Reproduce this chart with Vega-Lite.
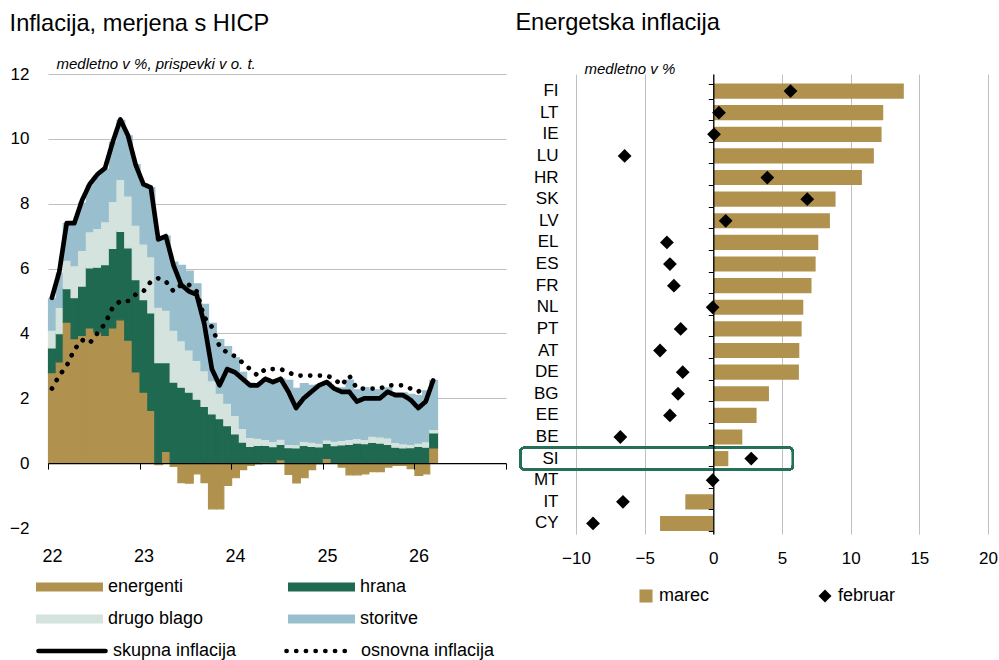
{
  "$schema": "https://vega.github.io/schema/vega-lite/v6.json",
  "padding": {"left": 9, "top": 10, "right": 0, "bottom": 0},
  "autosize": {"type": "pad"},
  "config": {
    "font": "Liberation Sans",
    "view": {"stroke": null},
    "bar": {"binSpacing": 0},
    "axis": {"labelColor": "black", "labelFont": "Liberation Sans", "titleColor": "black"},
    "legend": {"labelColor": "black", "labelFont": "Liberation Sans"}
  },
  "datasets": {
    "komp": [
      {"komponenta": "energenti", "red": 1},
      {"komponenta": "hrana", "red": 2},
      {"komponenta": "drugo blago", "red": 3},
      {"komponenta": "storitve", "red": 4}
    ],
    "infl": [
      {"mesec": "2022-01", "energenti": 2.79, "hrana": 0.76, "drugo blago": 0.55, "storitve": 0.97, "skupna inflacija": 5.1, "osnovna inflacija": 2.3},
      {"mesec": "2022-02", "energenti": 3.12, "hrana": 0.87, "drugo blago": 0.81, "storitve": 1.05, "skupna inflacija": 5.9, "osnovna inflacija": 2.7},
      {"mesec": "2022-03", "energenti": 4.35, "hrana": 1.03, "drugo blago": 0.88, "storitve": 1.13, "skupna inflacija": 7.4, "osnovna inflacija": 3.0},
      {"mesec": "2022-04", "energenti": 3.84, "hrana": 1.26, "drugo blago": 0.99, "storitve": 1.35, "skupna inflacija": 7.4, "osnovna inflacija": 3.5},
      {"mesec": "2022-05", "energenti": 3.94, "hrana": 1.52, "drugo blago": 1.10, "storitve": 1.46, "skupna inflacija": 8.1, "osnovna inflacija": 3.8},
      {"mesec": "2022-06", "energenti": 4.17, "hrana": 1.85, "drugo blago": 1.12, "storitve": 1.43, "skupna inflacija": 8.6, "osnovna inflacija": 3.7},
      {"mesec": "2022-07", "energenti": 4.04, "hrana": 2.00, "drugo blago": 1.20, "storitve": 1.62, "skupna inflacija": 8.9, "osnovna inflacija": 4.0},
      {"mesec": "2022-08", "energenti": 3.94, "hrana": 2.18, "drugo blago": 1.33, "storitve": 1.62, "skupna inflacija": 9.1, "osnovna inflacija": 4.3},
      {"mesec": "2022-09", "energenti": 4.17, "hrana": 2.45, "drugo blago": 1.45, "storitve": 1.82, "skupna inflacija": 9.9, "osnovna inflacija": 4.8},
      {"mesec": "2022-10", "energenti": 4.42, "hrana": 2.73, "drugo blago": 1.60, "storitve": 1.82, "skupna inflacija": 10.6, "osnovna inflacija": 5.0},
      {"mesec": "2022-11", "energenti": 3.79, "hrana": 2.85, "drugo blago": 1.60, "storitve": 1.85, "skupna inflacija": 10.1, "osnovna inflacija": 5.0},
      {"mesec": "2022-12", "energenti": 2.81, "hrana": 2.85, "drugo blago": 1.68, "storitve": 1.87, "skupna inflacija": 9.2, "osnovna inflacija": 5.2},
      {"mesec": "2023-01", "energenti": 2.19, "hrana": 2.85, "drugo blago": 1.72, "storitve": 1.84, "skupna inflacija": 8.6, "osnovna inflacija": 5.3},
      {"mesec": "2023-02", "energenti": 1.63, "hrana": 3.00, "drugo blago": 1.74, "storitve": 2.13, "skupna inflacija": 8.5, "osnovna inflacija": 5.6},
      {"mesec": "2023-03", "energenti": -0.05, "hrana": 3.10, "drugo blago": 1.71, "storitve": 2.14, "skupna inflacija": 6.9, "osnovna inflacija": 5.7},
      {"mesec": "2023-04", "energenti": 0.36, "hrana": 2.74, "drugo blago": 1.62, "storitve": 2.28, "skupna inflacija": 7.0, "osnovna inflacija": 5.6},
      {"mesec": "2023-05", "energenti": -0.10, "hrana": 2.50, "drugo blago": 1.60, "storitve": 2.10, "skupna inflacija": 6.1, "osnovna inflacija": 5.3},
      {"mesec": "2023-06", "energenti": -0.60, "hrana": 2.34, "drugo blago": 1.44, "storitve": 2.32, "skupna inflacija": 5.5, "osnovna inflacija": 5.5},
      {"mesec": "2023-07", "energenti": -0.62, "hrana": 2.19, "drugo blago": 1.30, "storitve": 2.43, "skupna inflacija": 5.3, "osnovna inflacija": 5.5},
      {"mesec": "2023-08", "energenti": -0.33, "hrana": 1.97, "drugo blago": 1.20, "storitve": 2.36, "skupna inflacija": 5.2, "osnovna inflacija": 5.3},
      {"mesec": "2023-09", "energenti": -0.60, "hrana": 1.75, "drugo blago": 1.10, "storitve": 2.05, "skupna inflacija": 4.3, "osnovna inflacija": 4.5},
      {"mesec": "2023-10", "energenti": -1.41, "hrana": 1.52, "drugo blago": 1.02, "storitve": 1.77, "skupna inflacija": 2.9, "osnovna inflacija": 4.2},
      {"mesec": "2023-11", "energenti": -1.41, "hrana": 1.37, "drugo blago": 0.79, "storitve": 1.65, "skupna inflacija": 2.4, "osnovna inflacija": 3.6},
      {"mesec": "2023-12", "energenti": -0.69, "hrana": 1.16, "drugo blago": 0.69, "storitve": 1.74, "skupna inflacija": 2.9, "osnovna inflacija": 3.4},
      {"mesec": "2024-01", "energenti": -0.45, "hrana": 0.90, "drugo blago": 0.57, "storitve": 1.78, "skupna inflacija": 2.8, "osnovna inflacija": 3.3},
      {"mesec": "2024-02", "energenti": -0.20, "hrana": 0.65, "drugo blago": 0.42, "storitve": 1.73, "skupna inflacija": 2.6, "osnovna inflacija": 3.1},
      {"mesec": "2024-03", "energenti": -0.07, "hrana": 0.52, "drugo blago": 0.27, "storitve": 1.68, "skupna inflacija": 2.4, "osnovna inflacija": 2.9},
      {"mesec": "2024-04", "energenti": -0.02, "hrana": 0.55, "drugo blago": 0.22, "storitve": 1.65, "skupna inflacija": 2.4, "osnovna inflacija": 2.7},
      {"mesec": "2024-05", "energenti": 0.03, "hrana": 0.52, "drugo blago": 0.18, "storitve": 1.87, "skupna inflacija": 2.6, "osnovna inflacija": 2.9},
      {"mesec": "2024-06", "energenti": 0.01, "hrana": 0.50, "drugo blago": 0.16, "storitve": 1.83, "skupna inflacija": 2.5, "osnovna inflacija": 2.9},
      {"mesec": "2024-07", "energenti": 0.11, "hrana": 0.47, "drugo blago": 0.16, "storitve": 1.86, "skupna inflacija": 2.6, "osnovna inflacija": 2.9},
      {"mesec": "2024-08", "energenti": -0.35, "hrana": 0.48, "drugo blago": 0.10, "storitve": 1.97, "skupna inflacija": 2.2, "osnovna inflacija": 2.8},
      {"mesec": "2024-09", "energenti": -0.61, "hrana": 0.47, "drugo blago": 0.10, "storitve": 1.74, "skupna inflacija": 1.7, "osnovna inflacija": 2.7},
      {"mesec": "2024-10", "energenti": -0.45, "hrana": 0.55, "drugo blago": 0.12, "storitve": 1.78, "skupna inflacija": 2.0, "osnovna inflacija": 2.7},
      {"mesec": "2024-11", "energenti": -0.20, "hrana": 0.52, "drugo blago": 0.13, "storitve": 1.75, "skupna inflacija": 2.2, "osnovna inflacija": 2.7},
      {"mesec": "2024-12", "energenti": -0.02, "hrana": 0.50, "drugo blago": 0.12, "storitve": 1.80, "skupna inflacija": 2.4, "osnovna inflacija": 2.7},
      {"mesec": "2025-01", "energenti": 0.15, "hrana": 0.46, "drugo blago": 0.11, "storitve": 1.78, "skupna inflacija": 2.5, "osnovna inflacija": 2.7},
      {"mesec": "2025-02", "energenti": 0.02, "hrana": 0.52, "drugo blago": 0.14, "storitve": 1.62, "skupna inflacija": 2.3, "osnovna inflacija": 2.6},
      {"mesec": "2025-03", "energenti": -0.12, "hrana": 0.56, "drugo blago": 0.14, "storitve": 1.62, "skupna inflacija": 2.2, "osnovna inflacija": 2.4},
      {"mesec": "2025-04", "energenti": -0.36, "hrana": 0.58, "drugo blago": 0.15, "storitve": 1.83, "skupna inflacija": 2.2, "osnovna inflacija": 2.7},
      {"mesec": "2025-05", "energenti": -0.36, "hrana": 0.62, "drugo blago": 0.14, "storitve": 1.50, "skupna inflacija": 1.9, "osnovna inflacija": 2.3},
      {"mesec": "2025-06", "energenti": -0.33, "hrana": 0.60, "drugo blago": 0.13, "storitve": 1.60, "skupna inflacija": 2.0, "osnovna inflacija": 2.3},
      {"mesec": "2025-07", "energenti": -0.26, "hrana": 0.64, "drugo blago": 0.19, "storitve": 1.43, "skupna inflacija": 2.0, "osnovna inflacija": 2.3},
      {"mesec": "2025-08", "energenti": -0.26, "hrana": 0.62, "drugo blago": 0.19, "storitve": 1.45, "skupna inflacija": 2.0, "osnovna inflacija": 2.3},
      {"mesec": "2025-09", "energenti": -0.12, "hrana": 0.58, "drugo blago": 0.20, "storitve": 1.54, "skupna inflacija": 2.2, "osnovna inflacija": 2.4},
      {"mesec": "2025-10", "energenti": -0.07, "hrana": 0.49, "drugo blago": 0.15, "storitve": 1.53, "skupna inflacija": 2.1, "osnovna inflacija": 2.4},
      {"mesec": "2025-11", "energenti": -0.07, "hrana": 0.47, "drugo blago": 0.13, "storitve": 1.57, "skupna inflacija": 2.1, "osnovna inflacija": 2.4},
      {"mesec": "2025-12", "energenti": -0.17, "hrana": 0.48, "drugo blago": 0.10, "storitve": 1.54, "skupna inflacija": 1.95, "osnovna inflacija": 2.3},
      {"mesec": "2026-01", "energenti": -0.38, "hrana": 0.52, "drugo blago": 0.10, "storitve": 1.46, "skupna inflacija": 1.7, "osnovna inflacija": 2.2},
      {"mesec": "2026-02", "energenti": -0.33, "hrana": 0.49, "drugo blago": 0.17, "storitve": 1.57, "skupna inflacija": 1.9, "osnovna inflacija": 2.4},
      {"mesec": "2026-03", "energenti": 0.47, "hrana": 0.46, "drugo blago": 0.11, "storitve": 1.51, "skupna inflacija": 2.55, "osnovna inflacija": null}
    ],
    "energ": [
      {"drzava": "FI", "marec": 13.87, "februar": 5.62},
      {"drzava": "LT", "marec": 12.37, "februar": 0.41},
      {"drzava": "IE", "marec": 12.25, "februar": 0.05},
      {"drzava": "LU", "marec": 11.69, "februar": -6.46},
      {"drzava": "HR", "marec": 10.82, "februar": 3.93},
      {"drzava": "SK", "marec": 8.90, "februar": 6.84},
      {"drzava": "LV", "marec": 8.49, "februar": 0.90},
      {"drzava": "EL", "marec": 7.64, "februar": -3.38},
      {"drzava": "ES", "marec": 7.45, "februar": -3.16},
      {"drzava": "FR", "marec": 7.15, "februar": -2.87},
      {"drzava": "NL", "marec": 6.55, "februar": -0.05},
      {"drzava": "PT", "marec": 6.43, "februar": -2.38},
      {"drzava": "AT", "marec": 6.26, "februar": -3.88},
      {"drzava": "DE", "marec": 6.23, "februar": -2.23},
      {"drzava": "BG", "marec": 4.05, "februar": -2.57},
      {"drzava": "EE", "marec": 3.15, "februar": -3.16},
      {"drzava": "BE", "marec": 2.11, "februar": -6.77},
      {"drzava": "SI", "marec": 1.09, "februar": 2.76},
      {"drzava": "MT", "marec": 0.0, "februar": -0.05},
      {"drzava": "IT", "marec": -2.04, "februar": -6.58},
      {"drzava": "CY", "marec": -3.88, "februar": -8.76}
    ]
  },
  "hconcat": [
    {
      "width": 458,
      "height": 454,
      "title": {"text": "Inflacija, merjena s HICP", "anchor": "start", "fontSize": 23.6, "fontWeight": "normal", "font": "Liberation Sans", "color": "black", "offset": 21},
      "data": {"name": "infl"},
      "layer": [
        {
          "transform": [
            {"fold": ["energenti", "hrana", "drugo blago", "storitve"], "as": ["komponenta", "prispevek"]},
            {"lookup": "komponenta", "from": {"data": {"name": "komp"}, "key": "komponenta", "fields": ["red"]}}
          ],
          "mark": {"type": "bar", "binSpacing": 0, "timeUnitBandSize": 1, "strokeWidth": 1.2},
          "encoding": {
            "x": {
              "field": "mesec", "timeUnit": "utcyearmonth", "type": "temporal",
              "scale": {"domain": [{"year": 2022, "month": 1, "date": 1, "utc": true}, {"year": 2027, "month": 1, "date": 1, "utc": true}]},
              "axis": {
                "orient": "bottom", "title": null, "format": "%y",
                "values": [{"year": 2022, "month": 1, "date": 1, "utc": true}, {"year": 2023, "month": 1, "date": 1, "utc": true}, {"year": 2024, "month": 1, "date": 1, "utc": true}, {"year": 2025, "month": 1, "date": 1, "utc": true}, {"year": 2026, "month": 1, "date": 1, "utc": true}],
                "labelFontSize": 18, "labelPadding": 19, "labelOffset": 4, "labelFlush": false,
                "ticks": false, "domain": false, "grid": false
              }
            },
            "y": {
              "field": "prispevek", "type": "quantitative", "stack": "zero",
              "scale": {"domain": [-2, 12], "nice": false},
              "axis": {
                "title": "medletno v %, prispevki v o. t.", "titleAngle": 0, "titleAlign": "left", "titleBaseline": "alphabetic",
                "titleX": 8, "titleY": -5.5, "titleFontSize": 15, "titleFontStyle": "italic", "titleFontWeight": "normal",
                "values": [-2, 0, 2, 4, 6, 8, 10, 12], "labelFontSize": 17, "labelPadding": 19,
                "ticks": false, "domain": false, "grid": true, "gridColor": "#BFBFBF", "gridWidth": 1,
                "gridOpacity": {"condition": {"test": "datum.value <= 0", "value": 0}, "value": 1}
              }
            },
            "order": {"field": "red", "type": "quantitative", "sort": "ascending"},
            "color": {
              "field": "komponenta", "type": "nominal",
              "sort": ["energenti", "hrana", "drugo blago", "storitve"],
              "scale": {"domain": ["energenti", "hrana", "drugo blago", "storitve"], "range": ["#B0924E", "#1F6950", "#D4E3DE", "#99BFCE"]},
              "legend": {
                "orient": "none", "legendX": -12, "legendY": 502, "direction": "horizontal", "columns": 2,
                "columnPadding": 84, "rowPadding": 10, "title": null, "clipHeight": 22,
                "symbolType": "M-1,-0.135H1V0.135H-1Z", "symbolSize": 4489, "symbolStrokeWidth": 0,
                "labelFontSize": 18, "labelOffset": 5
              }
            },
            "stroke": {
              "field": "komponenta", "type": "nominal",
              "scale": {"domain": ["energenti", "hrana", "drugo blago", "storitve"], "range": ["#B0924E", "#1F6950", "#D4E3DE", "#99BFCE"]},
              "legend": null
            }
          }
        },
        {
          "transform": [{"fold": ["skupna inflacija", "osnovna inflacija"], "as": ["serija", "vrednost"]}],
          "mark": {"type": "line", "color": "black", "strokeWidth": 4.7, "strokeCap": "round", "strokeJoin": "round"},
          "encoding": {
            "x": {
              "field": "mesec", "timeUnit": "utcyearmonth", "type": "temporal", "bandPosition": 0.5,
              "axis": {
                "orient": "bottom", "offset": -64.9, "title": null, "labels": false,
                "values": [{"year": 2022, "month": 1, "date": 1, "utc": true}, {"year": 2023, "month": 1, "date": 1, "utc": true}, {"year": 2024, "month": 1, "date": 1, "utc": true}, {"year": 2025, "month": 1, "date": 1, "utc": true}, {"year": 2026, "month": 1, "date": 1, "utc": true}, {"year": 2027, "month": 1, "date": 1, "utc": true}],
                "ticks": true, "tickSize": 6, "tickColor": "black", "tickWidth": 1,
                "domain": true, "domainColor": "black", "domainWidth": 1.3, "grid": false, "zindex": 1
              }
            },
            "y": {
              "field": "vrednost", "type": "quantitative",
              "axis": {"title": "medletno v %, prispevki v o. t."}
            },
            "strokeDash": {
              "field": "serija", "type": "nominal",
              "scale": {"domain": ["skupna inflacija", "osnovna inflacija"], "range": [[1, 0], [0.1, 9.6]]},
              "legend": {
                "orient": "none", "legendX": -12, "legendY": 566, "direction": "horizontal", "columns": 2,
                "columnPadding": 47, "title": null, "clipHeight": 22,
                "symbolType": "stroke", "symbolSize": 4489, "symbolStrokeWidth": 4.7, "symbolStrokeColor": "black",
                "labelFontSize": 18, "labelOffset": 5,
                "encoding": {"symbols": {"strokeCap": {"value": "round"}}}
              }
            }
          }
        }
      ],
      "resolve": {"axis": {"x": "independent"}}
    },
    {
      "width": 412,
      "height": 460,
      "title": {"text": "Energetska inflacija", "anchor": "start", "fontSize": 23.6, "fontWeight": "normal", "font": "Liberation Sans", "color": "black", "offset": 27, "dx": -4},
      "data": {"name": "energ"},
      "transform": [{"fold": ["marec", "februar"], "as": ["mesec", "vrednost"]}],
      "layer": [
        {
          "transform": [{"filter": "datum.mesec === 'marec'"}],
          "mark": {"type": "bar"},
          "encoding": {
            "y": {
              "field": "drzava", "type": "nominal",
              "scale": {"domain": ["FI", "LT", "IE", "LU", "HR", "SK", "LV", "EL", "ES", "FR", "NL", "PT", "AT", "DE", "BG", "EE", "BE", "SI", "MT", "IT", "CY"], "paddingInner": 0.3, "paddingOuter": 0.288, "align": 0.763},
              "axis": {
                "title": "medletno v %", "titleAngle": 0, "titleAlign": "left", "titleBaseline": "alphabetic",
                "titleX": 8, "titleY": -0.5, "titleFontSize": 15, "titleFontStyle": "italic", "titleFontWeight": "normal",
                "labelFontSize": 17, "labelPadding": 18, "ticks": false, "domain": false, "grid": false
              }
            },
            "x": {
              "field": "vrednost", "type": "quantitative",
              "scale": {"domain": [-10, 20], "nice": false},
              "axis": {
                "title": null, "values": [-10, -5, 0, 5, 10, 15, 20], "labelFontSize": 17, "labelPadding": 16,
                "labelFlush": false, "labelOverlap": false,
                "ticks": false, "domain": false, "grid": true, "gridColor": "#BFBFBF", "gridWidth": 1
              }
            },
            "color": {
              "field": "mesec", "type": "nominal",
              "scale": {"domain": ["marec", "februar"], "range": ["#B0924E", "black"]},
              "legend": {
                "orient": "none", "legendX": 61, "legendY": 513, "direction": "horizontal", "columns": 2,
                "columnPadding": 106, "title": null, "symbolSize": 170, "symbolStrokeWidth": 0,
                "labelFontSize": 18, "labelOffset": 4
              }
            }
          }
        },
        {
          "transform": [{"filter": "datum.mesec === 'februar'"}],
          "mark": {"type": "point", "filled": true, "size": 190, "opacity": 1},
          "encoding": {
            "y": {
              "field": "drzava", "type": "nominal",
              "axis": {
                "orient": "left", "offset": -137.3, "title": null, "labels": false,
                "ticks": true, "tickBand": "extent", "tickSize": 5, "tickColor": "black", "tickWidth": 1,
                "domain": true, "domainColor": "black", "domainWidth": 1.3, "grid": false, "zindex": 1
              }
            },
            "x": {"field": "vrednost", "type": "quantitative"},
            "color": {"field": "mesec", "type": "nominal"},
            "shape": {
              "field": "mesec", "type": "nominal",
              "scale": {"domain": ["marec", "februar"], "range": ["square", "diamond"]}
            }
          }
        },
        {
          "mark": {"type": "bar", "fill": null, "fillOpacity": 0, "stroke": "#26705A", "strokeWidth": 2, "cornerRadius": 4, "height": {"band": 1.43}},
          "encoding": {
            "y": {"datum": "SI", "type": "nominal", "axis": null},
            "x": {"datum": -14.05, "type": "quantitative"},
            "x2": {"datum": 5.8}
          }
        }
      ],
      "resolve": {"axis": {"y": "independent"}}
    }
  ],
  "spacing": 8,
  "resolve": {"scale": {"color": "independent", "shape": "independent", "strokeDash": "independent", "stroke": "independent"}, "legend": {"color": "independent"}}
}
